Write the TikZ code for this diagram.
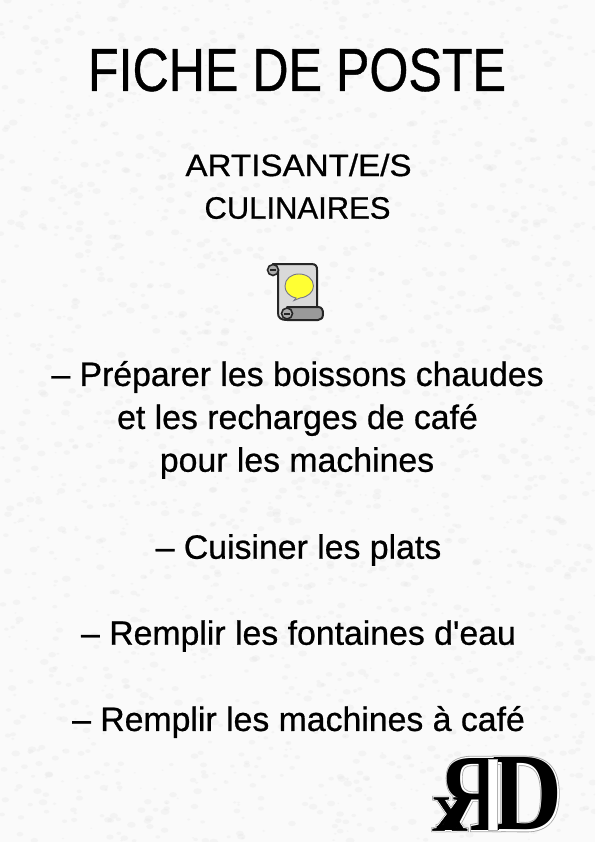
\documentclass[tikz,border=0pt]{standalone}
\usepackage{fontspec}
\usetikzlibrary{calc}
\newfontfamily\plainfont{Liberation Sans}[FakeBold=.7]
\newfontfamily\logofont{Liberation Serif Bold}
\newfontfamily\logohaloa{Liberation Serif Bold}[FakeBold=4]
\newfontfamily\logohalob{Liberation Serif Bold}[FakeBold=2.4]
\newfontfamily\logoxfont{Liberation Serif}[FakeBold=.6]
\newfontfamily\logoxa{Liberation Serif}[FakeBold=4.5]
\newfontfamily\logoxb{Liberation Serif}[FakeBold=2.8]
\definecolor{paper}{HTML}{FAFAFA}
\definecolor{fleck}{HTML}{E4E4E4}
\definecolor{scrollbody}{HTML}{D9D9D9}
\definecolor{scrollbar}{HTML}{9A9A9A}
\definecolor{scrolledge}{HTML}{262626}
\definecolor{bubble}{HTML}{FFFF33}
\definecolor{bubbleedge}{HTML}{77778A}
\tikzset{
  titletext/.style={font=\plainfont\fontsize{57}{57}\selectfont,text=black,inner sep=0,anchor=center,xscale=.88,yscale=1.07},
  subtext/.style={font=\plainfont\fontsize{31}{31}\selectfont,text=black,inner sep=0,anchor=center},
  bodytext/.style={font=\plainfont\fontsize{33.8}{34}\selectfont,text=black,inner sep=0,anchor=center},
  scrollline/.style={draw=scrolledge,line width=2pt,line join=round},
  curl/.style={draw=scrolledge,fill=gray!65,line width=1.6pt},
}
\newcommand{\logoglyphs}[4]{%
  \node[font=#1\fontsize{110}{110}\selectfont,text=#4,inner sep=0,anchor=center,xscale=-.8] (logoR#3) at (470,-794) {R};
  \node[font=#1\fontsize{110}{110}\selectfont,text=#4,inner sep=0,anchor=center,xscale=.88] (logoD#3) at (527.5,-794) {D};
  \node[font=#2\fontsize{72}{72}\selectfont,text=#4,inner sep=0,anchor=center] (logoX#3) at (450,-814) {x};
}
\begin{document}
\begin{tikzpicture}[x=1pt,y=1pt]
\useasboundingbox (0,0) rectangle (595,-842);
\fill[paper] (0,0) rectangle (595,-842);
\pgfmathsetseed{4217}
\begin{scope}
\clip (0,0) rectangle (595,-842);
\foreach \i in {1,...,2200}{
  \pgfmathsetmacro{\px}{rnd*595}
  \pgfmathsetmacro{\py}{-rnd*842}
  \pgfmathsetmacro{\pr}{1+rnd*3.5}
  \fill[fleck,opacity=.28] (\px,\py) circle[x radius=\pr,y radius=\pr*.7];
}
\end{scope}

\node[titletext] (title) at (297,-70) {FICHE DE POSTE};
\node[subtext,xscale=1.07] (sub1) at (298.5,-165) {ARTISANT/E/S};
\node[subtext] (sub2) at (297.5,-208) {CULINAIRES};

% scroll
\path[scrollline,fill=scrollbody] (273,-264) -- (311,-264) .. controls (316,-264) and (317,-266) .. (317,-270) -- (317,-308) -- (287,-320)
  .. controls (281,-320) and (278,-318) .. (278,-313) -- (278,-270) -- cycle;
\path[scrollline,fill=scrollbar] (287,-307) -- (318,-307) .. controls (322,-307) and (323,-310) .. (323,-314)
  .. controls (323,-318) and (321,-320) .. (318,-320) -- (287,-320) -- cycle;
\path[curl] (273,-270) circle[radius=5.5];
\path[curl] (287,-313.5) circle[radius=5.5];
\fill[scrolledge] (270,-271) rectangle (276,-269);
\fill[scrolledge] (284,-314.5) rectangle (290,-312.5);
\path[draw=bubbleedge,fill=bubble,line width=.9pt] (296,-298) .. controls (288,-296) and (285,-291) .. (285,-286)
  .. controls (285,-279) and (291,-274) .. (299,-274) .. controls (307,-274) and (313.5,-279) .. (313.5,-286)
  .. controls (313.5,-292) and (308,-297) .. (300,-298) -- (294,-300.5) -- cycle;

\node[bodytext] (l1) at (297.5,-377) {– Préparer les boissons chaudes};
\node[bodytext] (l2) at (297.5,-420) {et les recharges de café};
\node[bodytext] (l3) at (297,-463) {pour les machines};
\node[bodytext] (l4) at (298.5,-550) {– Cuisiner les plats};
\node[bodytext] (l5) at (298.5,-636) {– Remplir les fontaines d'eau};
\node[bodytext] (l6) at (298.5,-722) {– Remplir les machines à café};

% logo
\logoglyphs{\logohaloa}{\logoxa}{a}{gray!70}
\logoglyphs{\logohalob}{\logoxb}{b}{white}
\logoglyphs{\logofont}{\logoxfont}{c}{black}
\path[draw=gray!60,fill=white,line width=.8pt] (488.5,-759) -- (497.5,-759) -- (497.5,-830) -- (488.5,-830) -- cycle;
\end{tikzpicture}
\end{document}
